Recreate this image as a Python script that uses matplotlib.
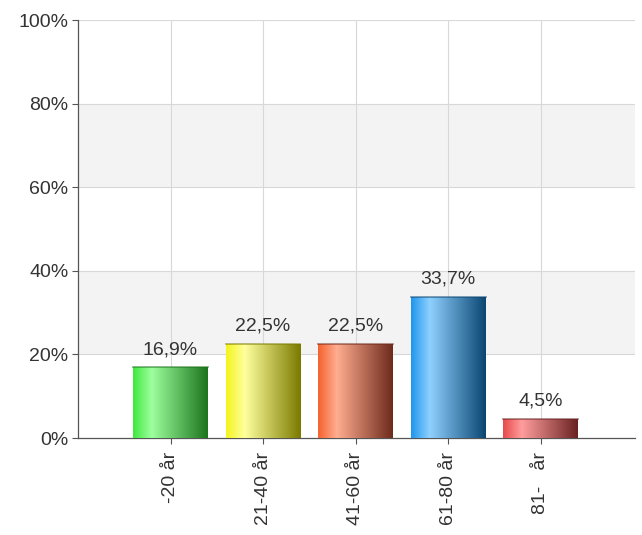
import numpy as np
import matplotlib
matplotlib.use('Agg')
import matplotlib.pyplot as plt
from matplotlib.colors import LinearSegmentedColormap

plt.rcParams['font.family'] = ['Liberation Sans', 'DejaVu Sans']

categories = ['-20 år', '21-40 år', '41-60 år', '61-80 år', '81-   år']
values = [16.9, 22.5, 22.5, 33.7, 4.5]
labels = ['16,9%', '22,5%', '22,5%', '33,7%', '4,5%']
# left / highlight / right shade per bar
shades = [
    ('#3fe83f', '#9dff9d', '#1c741c'),
    ('#f4f41c', '#ffff9e', '#7a7a00'),
    ('#f5622e', '#ffad90', '#6e2a1c'),
    ('#1e96ec', '#8fd0ff', '#0b4672'),
    ('#e84a4a', '#ff9d9d', '#6a2222'),
]

fig = plt.figure(figsize=(6.42, 5.35), dpi=100)
ax = fig.add_axes([0.1215, 0.1813, 0.8675, 0.7813])

x = np.arange(len(values))
width = 0.81

# alternating bands
for lo in (20, 60):
    ax.axhspan(lo, lo + 20, color='#f3f3f3', zorder=0, lw=0)
for yv in range(20, 101, 20):
    ax.axhline(yv, color='#d8d8d8', lw=0.8, zorder=1)
for xv in x:
    ax.axvline(xv, color='#d8d8d8', lw=0.8, zorder=1)

grad = np.linspace(0, 1, 256).reshape(1, -1)
bars = ax.bar(x, values, width=width, color='none', zorder=2)
for b, sh, lab in zip(bars, shades, labels):
    cmap = LinearSegmentedColormap.from_list('g', [(0, sh[0]), (0.25, sh[1]), (1, sh[2])])
    x0, y0 = b.get_x(), b.get_y()
    im = ax.imshow(grad, cmap=cmap, aspect='auto', extent=(x0, x0 + b.get_width(), y0, y0 + b.get_height()),
                   zorder=3)
    im.set_clip_path(b)
    ax.plot([x0, x0 + b.get_width()], [b.get_height()] * 2, color=sh[2], lw=1.2, alpha=0.6, zorder=4)
    ax.text(b.get_x() + b.get_width() / 2, b.get_height() + 2.2, lab, ha='center', va='bottom',
            fontsize=14, color='#333333', zorder=4)

ax.set_xlim(-1, 5.02)
ax.set_ylim(0, 100)

ax.set_xticks(x)
ax.set_xticklabels(categories, rotation=90, fontsize=14, color='#333333')
ax.set_yticks(range(0, 101, 20))
ax.set_yticklabels([f'{v}%' for v in range(0, 101, 20)], fontsize=14, color='#333333')
ax.tick_params(axis='both', length=4, width=0.8, color='#555555', pad=3)
ax.tick_params(axis='x', pad=6)

for s in ('top', 'right'):
    ax.spines[s].set_visible(False)
for s in ('left', 'bottom'):
    ax.spines[s].set_color('#555555')
    ax.spines[s].set_linewidth(0.9)

fig.savefig('out.png', dpi=100)
